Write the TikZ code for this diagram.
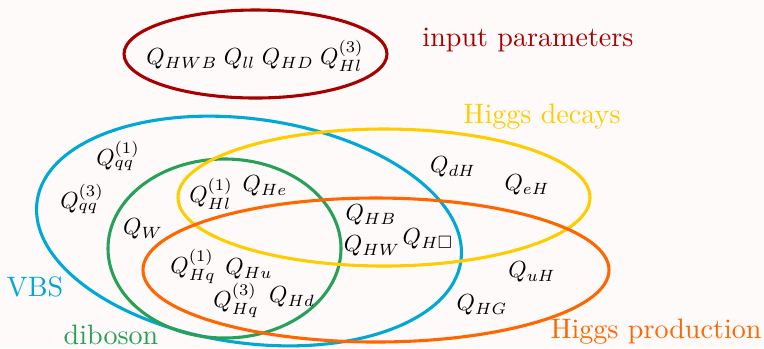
\documentclass[tikz,border=0pt]{standalone}
\usepackage{amssymb}
\definecolor{bgc}{RGB}{253,250,249}
\definecolor{cred}{RGB}{168,0,0}
\definecolor{cblue}{RGB}{0,168,214}
\definecolor{cgreen}{RGB}{40,160,90}
\definecolor{cyellow}{RGB}{255,204,0}
\definecolor{corange}{RGB}{255,102,0}
\newcommand{\opm}[1]{\scalebox{0.83}{$#1$}}
\tikzset{
  setline/.style={line width=1.1pt},
  op/.style={inner sep=0pt},
  setlabel/.style={inner sep=0pt},
}
\begin{document}
\begin{tikzpicture}[x=0.356pt,y=-0.356pt]
\fill[bgc] (0,0) rectangle (764,348);
\useasboundingbox (0,0) rectangle (764,348);
% sets
\draw[setline,cred] (255.5,54) ellipse [x radius=131.5, y radius=44];
\draw[setline,cblue] (249,231) ellipse [x radius=214, y radius=112, rotate=-8];
\draw[setline,cgreen] (224.5,248.5) ellipse [x radius=116.5, y radius=89.5];
\draw[setline,cyellow] (384,197.5) ellipse [x radius=206, y radius=68.5];
\draw[setline,corange] (376,270) ellipse [x radius=233, y radius=72];
% labels
\node[setlabel,text=cred] (lin) at (528,40) {input parameters};
\node[setlabel,text=cyellow] (ldec) at (542,117) {Higgs decays};
\node[setlabel,text=cblue] (lvbs) at (35,287) {VBS};
\node[setlabel,text=cgreen] (ldib) at (111,335) {diboson};
\node[setlabel,text=corange] (lprod) at (656,332) {Higgs production};
% operators
\node[op] (oin) at (255,56) {\opm{Q_{HWB}\;Q_{ll}\;Q_{HD}\;Q^{(3)}_{Hl}}};
\node[op] (qq1) at (118,156) {\opm{Q^{(1)}_{qq}}};
\node[op] (qq3) at (82,199) {\opm{Q^{(3)}_{qq}}};
\node[op] (qw) at (143,229) {\opm{Q_{W}}};
\node[op] (hl1) at (211,194) {\opm{Q^{(1)}_{Hl}}};
\node[op] (he) at (265,186) {\opm{Q_{He}}};
\node[op] (hb) at (371,215) {\opm{Q_{HB}}};
\node[op] (hw) at (372,246) {\opm{Q_{HW}}};
\node[op] (hbox) at (428,239) {\opm{Q_{H\Box}}};
\node[op] (dh) at (453,167) {\opm{Q_{dH}}};
\node[op] (eh) at (527,185) {\opm{Q_{eH}}};
\node[op] (uh) at (532,272) {\opm{Q_{uH}}};
\node[op] (hg) at (482,305) {\opm{Q_{HG}}};
\node[op] (hq1) at (193,266) {\opm{Q^{(1)}_{Hq}}};
\node[op] (hu) at (249,269) {\opm{Q_{Hu}}};
\node[op] (hq3) at (236,300) {\opm{Q^{(3)}_{Hq}}};
\node[op] (hd) at (292,297) {\opm{Q_{Hd}}};
\end{tikzpicture}
\end{document}
